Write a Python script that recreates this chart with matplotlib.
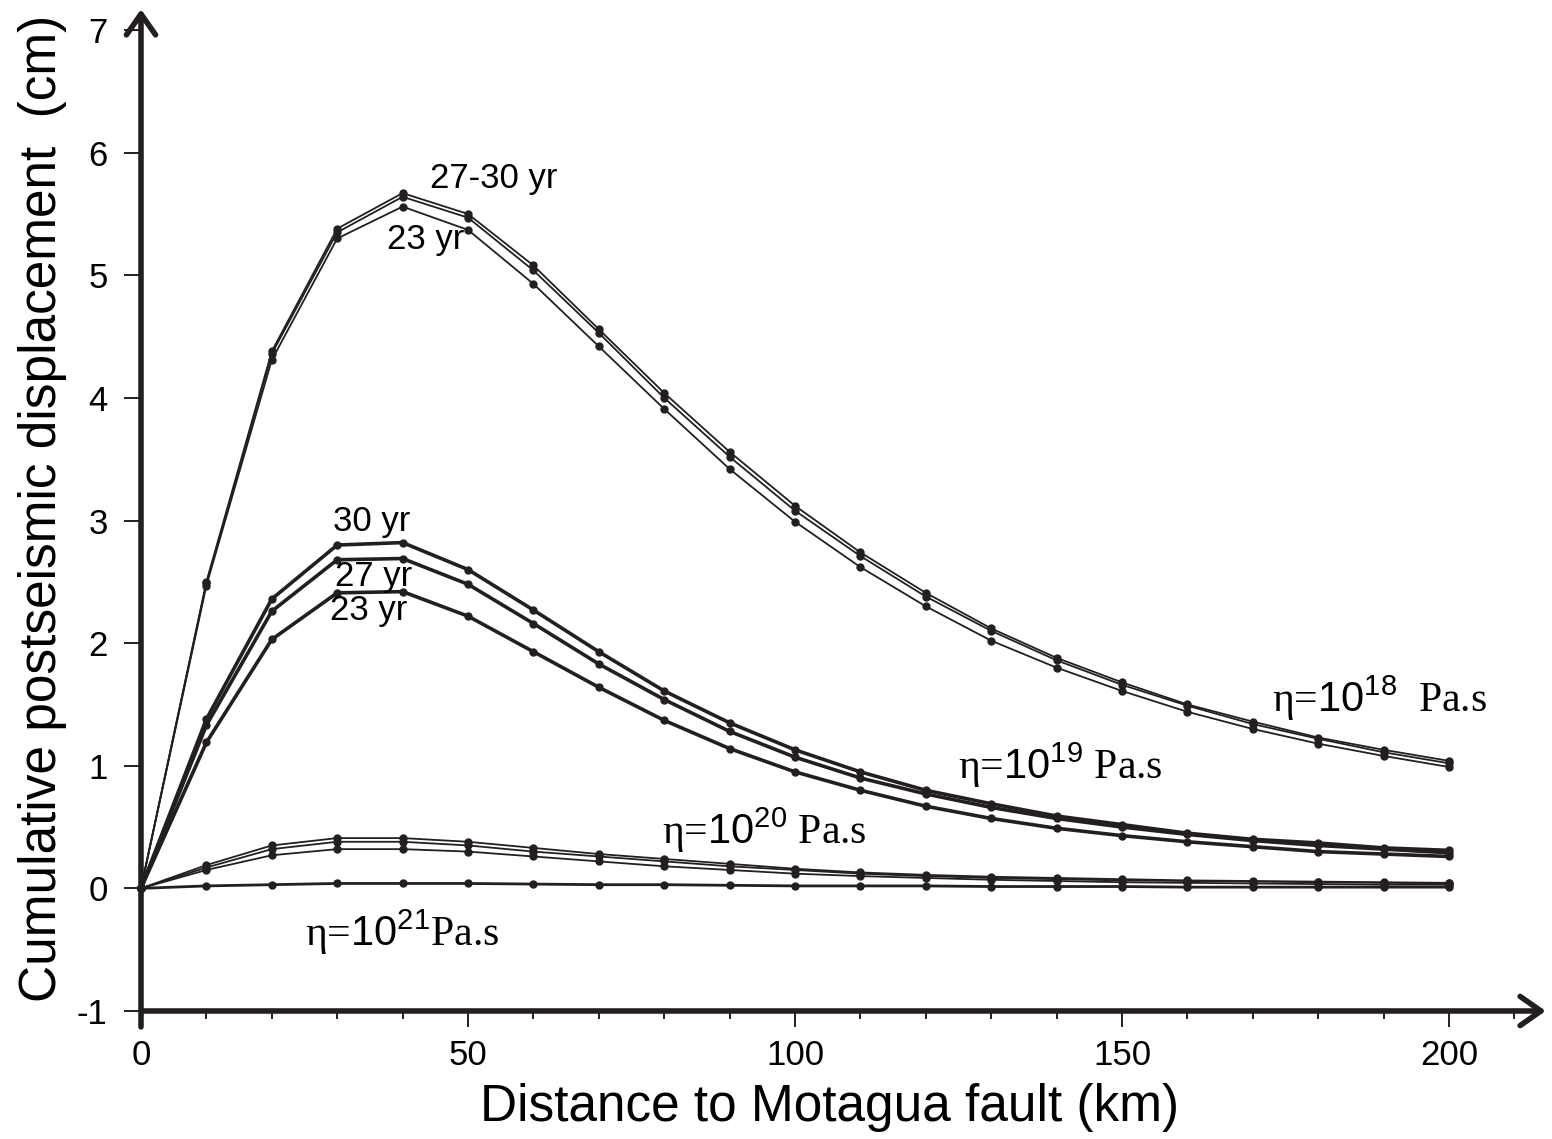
import matplotlib
matplotlib.use("Agg")
import matplotlib.pyplot as plt

plt.rcParams['font.family'] = ['Liberation Sans', 'DejaVu Sans']
plt.rcParams['mathtext.fontset'] = 'custom'
plt.rcParams['mathtext.rm'] = 'Liberation Sans'
plt.rcParams['axes.unicode_minus'] = False

# distancia (km)
dist = [0, 10, 20, 30, 40, 50, 60, 70, 80, 90, 100,
        110, 120, 130, 140, 150, 160, 170, 180, 190, 200]

# eta = 1e18 Pa.s  (30, 27, 23 yr)
eta18_30 = [0, 2.50, 4.38, 5.38, 5.67, 5.50, 5.08, 4.56, 4.04, 3.56, 3.12,
            2.74, 2.41, 2.12, 1.88, 1.68, 1.50, 1.36, 1.23, 1.13, 1.04]
eta18_27 = [0, 2.49, 4.36, 5.35, 5.64, 5.47, 5.04, 4.53, 4.00, 3.52, 3.08,
            2.71, 2.38, 2.10, 1.86, 1.66, 1.49, 1.34, 1.22, 1.11, 1.02]
eta18_23 = [0, 2.47, 4.31, 5.30, 5.56, 5.37, 4.93, 4.42, 3.91, 3.42, 2.99,
            2.62, 2.30, 2.02, 1.80, 1.61, 1.44, 1.30, 1.18, 1.08, 0.99]

# eta = 1e19 Pa.s
eta19_30 = [0, 1.38, 2.36, 2.80, 2.82, 2.60, 2.27, 1.93, 1.61, 1.35, 1.13,
            0.95, 0.80, 0.69, 0.59, 0.52, 0.45, 0.40, 0.37, 0.33, 0.31]
eta19_27 = [0, 1.33, 2.26, 2.68, 2.69, 2.48, 2.16, 1.83, 1.54, 1.28, 1.07,
            0.90, 0.77, 0.66, 0.57, 0.50, 0.44, 0.39, 0.35, 0.32, 0.29]
eta19_23 = [0, 1.19, 2.03, 2.41, 2.42, 2.22, 1.93, 1.64, 1.37, 1.14, 0.95,
            0.80, 0.67, 0.57, 0.49, 0.43, 0.38, 0.34, 0.30, 0.28, 0.26]

# eta = 1e20 Pa.s
eta20_30 = [0, 0.19, 0.35, 0.41, 0.41, 0.38, 0.33, 0.28, 0.24, 0.20, 0.16,
            0.13, 0.11, 0.095, 0.085, 0.075, 0.065, 0.06, 0.055, 0.05, 0.045]
eta20_27 = [0, 0.17, 0.32, 0.38, 0.38, 0.35, 0.30, 0.26, 0.22, 0.18, 0.15,
            0.12, 0.10, 0.085, 0.075, 0.065, 0.06, 0.055, 0.05, 0.045, 0.04]
eta20_23 = [0, 0.15, 0.27, 0.32, 0.32, 0.30, 0.26, 0.22, 0.18, 0.15, 0.12,
            0.10, 0.085, 0.07, 0.06, 0.05, 0.045, 0.04, 0.035, 0.03, 0.03]

# eta = 1e21 Pa.s
eta21 = [0, 0.02, 0.03, 0.04, 0.04, 0.04, 0.035, 0.03, 0.03, 0.025, 0.02,
         0.02, 0.02, 0.015, 0.015, 0.015, 0.01, 0.01, 0.01, 0.01, 0.01]

cor = '#231f20'

fig = plt.figure(figsize=(15.52, 11.39), dpi=100)
ax = fig.add_axes([0, 0, 1, 1])
ax.set_xlim(-21.56, 215.75)
ax.set_ylim(-2.044, 7.245)

# curvas finas
for serie in [eta18_30, eta18_27, eta18_23, eta20_30, eta20_27, eta20_23]:
    ax.plot(dist, serie, color=cor, lw=1.3, marker='o', ms=5, zorder=3)
# curvas grossas
for serie in [eta19_30, eta19_27, eta19_23]:
    ax.plot(dist, serie, color=cor, lw=2.6, marker='o', ms=5, zorder=3)
ax.plot(dist, eta21, color=cor, lw=2.0, marker='o', ms=5, zorder=3)

# eixos
for s in ['top', 'right', 'left', 'bottom']:
    ax.spines[s].set_visible(False)
ax.spines['left'].set_position(('data', 0))
ax.spines['bottom'].set_position(('data', -1))

ax.annotate('', xy=(0, 7.17), xytext=(0, -1.13),
            arrowprops=dict(arrowstyle='->,head_length=0.5,head_width=0.35',
                            lw=4, color=cor, mutation_scale=30, shrinkA=0, shrinkB=0))
ax.annotate('', xy=(214.8, -1), xytext=(0, -1),
            arrowprops=dict(arrowstyle='->,head_length=0.5,head_width=0.35',
                            lw=4, color=cor, mutation_scale=30, shrinkA=0, shrinkB=0))

ax.set_xticks([0, 50, 100, 150, 200])
ax.set_xticks([10, 20, 30, 40, 60, 70, 80, 90, 110, 120, 130, 140,
               160, 170, 180, 190, 210], minor=True)
ax.set_yticks([-1, 0, 1, 2, 3, 4, 5, 6, 7])
ax.tick_params(axis='x', which='major', direction='out', length=11.5, width=1.4,
               color=cor, labelsize=25, pad=9)
ax.tick_params(axis='x', which='minor', direction='out', length=5.8, width=1.4, color=cor)
ax.tick_params(axis='y', direction='out', length=12, width=1.4, color=cor,
               labelsize=25, pad=12)

# rotulos dos eixos
ax.text(105.2, -1.79, 'Distance to Motagua fault (km)', fontsize=37,
        ha='center', va='center')
ax.text(-15.1, 3.10, 'Cumulative postseismic displacement  (cm)', fontsize=37,
        rotation=90, ha='center', va='center')

# anotacoes
ax.text(44.2, 5.79, '27-30 yr', fontsize=25, va='center')
ax.text(37.6, 5.29, '23 yr', fontsize=25, va='center')
ax.text(29.4, 2.99, '30 yr', fontsize=25, va='center')
ax.text(29.7, 2.54, '27 yr', fontsize=25, va='center')
ax.text(28.9, 2.27, '23 yr', fontsize=25, va='center')

serif = ['Liberation Serif', 'DejaVu Serif']
ax.text(172.9, 1.55, r'η=$10^{18}$  Pa.s', fontsize=30, va='center', family=serif)
ax.text(124.9, 1.00, r'η=$10^{19}$ Pa.s', fontsize=30, va='center', family=serif)
ax.text(79.7, 0.47, r'η=$10^{20}$ Pa.s', fontsize=30, va='center', family=serif)
ax.text(25.1, -0.36, r'η=$10^{21}$Pa.s', fontsize=30, va='center', family=serif)

fig.savefig('out.png', dpi=100)
